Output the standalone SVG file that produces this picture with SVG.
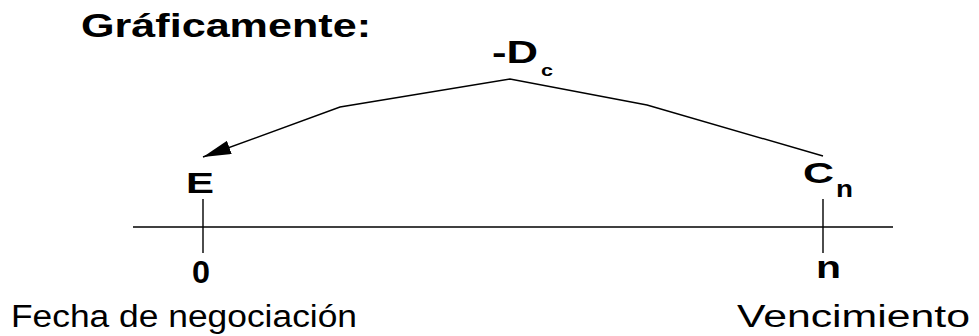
<svg xmlns="http://www.w3.org/2000/svg" width="979" height="336" viewBox="0 0 979 336">
<defs>
<style>
.b{font-family:"Liberation Sans",Arial,sans-serif;font-weight:bold;fill:#000}
.r{font-family:"Liberation Sans",Arial,sans-serif;fill:#000}
.ln{stroke:#000;stroke-width:1.4;fill:none}
</style>
<marker id="ah" markerUnits="userSpaceOnUse" markerWidth="28" markerHeight="14" refX="28" refY="7" orient="auto">
<path d="M0,0 L28,7 L0,14 z" fill="#000"/>
</marker>
</defs>
<rect width="979" height="336" fill="#fff"/>
<text class="b" x="81" y="37" font-size="33" textLength="290" lengthAdjust="spacingAndGlyphs">Gráficamente:</text>
<g id="connectors">
<line class="ln" x1="133" y1="227" x2="893" y2="227"/>
<line class="ln" x1="203" y1="199" x2="203" y2="253"/>
<line class="ln" x1="823" y1="199" x2="823" y2="253"/>
<polyline class="ln" points="823,156 647,105 510,79 340,107 203,157" marker-end="url(#ah)"/>
</g>
<g id="node-Dc">
<text class="b" x="492" y="63" font-size="32" textLength="46" lengthAdjust="spacingAndGlyphs">-D</text>
<text class="b" x="541" y="76" font-size="17" textLength="12" lengthAdjust="spacingAndGlyphs">c</text>
</g>
<g id="node-E">
<text class="b" x="186" y="193" font-size="29" textLength="28" lengthAdjust="spacingAndGlyphs">E</text>
</g>
<g id="node-Cn">
<text class="b" x="803" y="183" font-size="30" textLength="31" lengthAdjust="spacingAndGlyphs">C</text>
<text class="b" x="836" y="197" font-size="23" textLength="17" lengthAdjust="spacingAndGlyphs">n</text>
</g>
<g id="node-0">
<text class="b" x="192" y="283" font-size="31" textLength="18" lengthAdjust="spacingAndGlyphs">0</text>
<text class="r" x="11" y="327" font-size="31" textLength="346" lengthAdjust="spacingAndGlyphs">Fecha de negociación</text>
</g>
<g id="node-n">
<text class="b" x="816" y="278" font-size="31" textLength="25" lengthAdjust="spacingAndGlyphs">n</text>
<text class="r" x="737" y="327" font-size="31" textLength="233" lengthAdjust="spacingAndGlyphs">Vencimiento</text>
</g>
</svg>
